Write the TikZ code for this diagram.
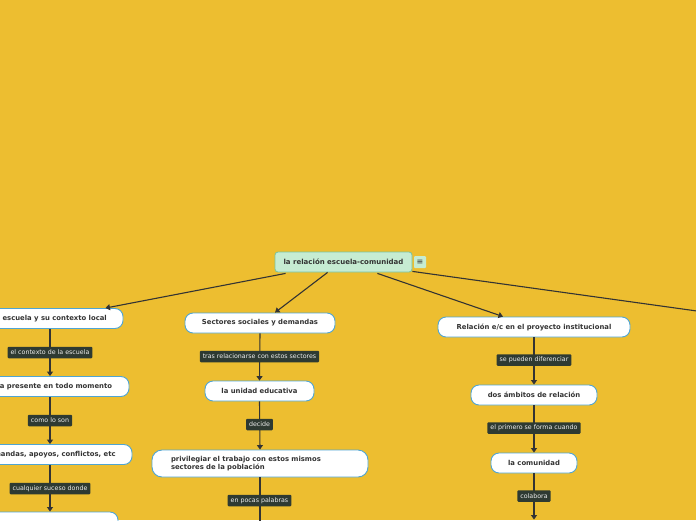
\documentclass[tikz,border=0pt]{standalone}
\usepackage{fontspec}
\setmainfont{DejaVu Sans}
\usetikzlibrary{arrows.meta,calc}
\definecolor{bgyellow}{RGB}{237,190,48}
\definecolor{rootfill}{RGB}{198,236,210}
\definecolor{rootline}{RGB}{120,196,160}
\definecolor{nodeline}{RGB}{80,165,210}
\definecolor{labfill}{RGB}{46,58,50}
\definecolor{labtext}{RGB}{238,238,238}
\definecolor{conn}{RGB}{51,51,51}
\tikzset{
  topic/.style={draw=nodeline, line width=0.9pt, fill=white, rounded corners=8pt,
    font=\fontsize{6.85}{8.2}\selectfont\bfseries, text=black!80, inner sep=0pt, minimum height=20pt},
  rootbox/.style={draw=rootline, line width=0.8pt, fill=rootfill, rounded corners=3pt,
    font=\fontsize{7}{8.4}\selectfont\bfseries, text=black!80, inner sep=0pt, minimum height=20pt, minimum width=137pt},
  lab/.style={fill=labfill, rounded corners=1pt, text=labtext, font=\fontsize{6.3}{7.2}\selectfont,
    inner xsep=3pt, inner ysep=0pt, minimum height=11.5pt},
  conline/.style={draw=conn, line width=1.1pt},
  arr/.style={conline, -{Triangle[width=6pt,length=4.5pt]}},
}
\begin{document}
\begin{tikzpicture}[x=1pt,y=-1pt]
\clip (0,0) rectangle (696,520);
\fill[bgyellow] (0,0) rectangle (696,520);

% root
\node[rootbox] (root) at (343.5,262) {la relación escuela-comunidad};
\node[fill=rootfill, rounded corners=1pt, minimum width=12pt, minimum height=12pt, inner sep=0pt,
  font=\fontsize{8}{8}\selectfont, text=black!80] (menu) at (420,262) {≡};

% left column
\node[topic, minimum width=146pt] (L1) at (50,318.5) {la escuela y su contexto local};
\node[topic, minimum width=158pt] (L2) at (50,386.5) {esta presente en todo momento};
\node[topic, minimum width=164pt] (L3) at (50,454.5) {demandas, apoyos, conflictos, etc};
\node[topic, minimum width=136pt] (L4) at (50,522) {};

% center column
\node[topic, minimum width=150pt] (C1) at (260,323) {Sectores sociales y demandas};
\node[topic, minimum width=109pt] (C2) at (259.5,391) {la unidad educativa};
\node[topic, minimum height=27pt, text width=178pt, inner xsep=19pt, align=left, rounded corners=10pt]
  (C3) at (260,463.5) {privilegiar el trabajo con estos mismos\\sectores de la población};
\node[topic, minimum width=150pt] (C4) at (260,540) {};

% right column
\node[topic, minimum width=192pt] (R1) at (534,327) {Relación e/c en el proyecto institucional};
\node[topic, minimum width=126pt] (R2) at (534,395) {dos ámbitos de relación};
\node[topic, minimum width=86pt] (R3) at (534,463) {la comunidad};
\node[topic, minimum width=120pt] (R4) at (534,533) {};

\coordinate (FR) at (740,317);

% root connectors
\draw[arr] ($(root.south west)+(11,1)$) -- ($(L1.north east)+(-18,0)$);
\draw[arr] ($(root.south west)+(53,0)$) -- ($(C1.north)+(15,0)$);
\draw[arr] ($(root.south east)+(-35,1)$) -- ($(R1.north)+(-31,0)$);
\draw[conline] ($(root.south east)+(0,-1)$) -- (FR);

% column connectors
\foreach \a/\b in {L1/L2,L2/L3,L3/L4,C1/C2,C2/C3,C3/C4,R1/R2,R2/R3}{
  \draw[arr] (\a.south) -- (\b.north);
}
\draw[arr] (R3.south) -- ($(R4.north)+(0,-3)$);

% labels
\node[lab] (l1) at (50,352.5) {el contexto de la escuela};
\node[lab] (l2) at (50,420.5) {como lo son};
\node[lab] (l3) at (50,488.5) {cualquier suceso donde};
\node[lab] (c1) at (259.5,356.5) {tras relacionarse con estos sectores};
\node[lab] (c2) at (259.5,424.5) {decide};
\node[lab] (c3) at (259.5,500.5) {en pocas palabras};
\node[lab] (r1) at (534,360) {se pueden diferenciar};
\node[lab] (r2) at (534,428) {el primero se forma cuando};
\node[lab] (r3) at (534,496) {colabora};
\end{tikzpicture}
\end{document}
